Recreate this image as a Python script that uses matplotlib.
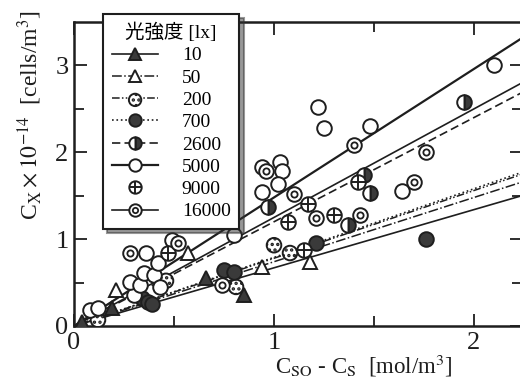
import numpy as np
import matplotlib
matplotlib.use('Agg')
import matplotlib.pyplot as plt
from matplotlib.lines import Line2D
from matplotlib.legend_handler import HandlerTuple

plt.rcParams['font.family'] = ['Liberation Serif', 'Noto Sans CJK JP', 'DejaVu Sans']
plt.rcParams['mathtext.fontset'] = 'stix'
plt.rcParams['hatch.linewidth'] = 1.6

# values: x = C_SO - C_S [mol/m3], y = C_X x 1e-14 [cells/m3]
lux = ['10', '50', '200', '700', '2600', '5000', '9000', '16000']

x_10 = [0.04, 0.19, 0.66, 0.85]
y_10 = [0.05, 0.21, 0.55, 0.36]
x_50 = [0.21, 0.57, 0.94, 1.18]
y_50 = [0.41, 0.84, 0.68, 0.74]
x_200 = [0.12, 0.46, 0.81, 1.00, 1.08]
y_200 = [0.07, 0.52, 0.45, 0.93, 0.84]
x_700 = [0.34, 0.37, 0.39, 0.75, 0.80, 1.21, 1.76]
y_700 = [0.32, 0.28, 0.25, 0.64, 0.62, 0.95, 1.00]
x_2600 = [0.97, 1.37, 1.45, 1.48, 1.95]
y_2600 = [1.37, 1.16, 1.74, 1.53, 2.58]
x_5000 = [0.08, 0.12, 0.30, 0.28, 0.33, 0.35, 0.40, 0.43, 0.42, 0.36, 0.49,
          0.80, 0.94, 1.03, 1.04, 1.02, 0.94, 1.22, 1.25, 1.48, 1.64, 2.10]
y_5000 = [0.18, 0.21, 0.36, 0.51, 0.47, 0.61, 0.59, 0.45, 0.72, 0.84, 0.99,
          1.05, 1.83, 1.89, 1.79, 1.64, 1.54, 2.52, 2.28, 2.30, 1.55, 3.00]
x_9000 = [0.47, 1.07, 1.15, 1.17, 1.30, 1.42]
y_9000 = [0.84, 1.20, 0.87, 1.41, 1.28, 1.66]
x_16000 = [0.28, 0.52, 0.74, 0.96, 1.10, 1.21, 1.43, 1.40, 1.70, 1.76]
y_16000 = [0.84, 0.95, 0.47, 1.79, 1.52, 1.24, 1.28, 2.08, 1.66, 2.00]

# slopes of the fitted lines through the origin (None = no line drawn)
slopes = [0.67, 0.74, 0.78, 0.79, 1.20, 1.48, None, 1.25]

xs = [x_10, x_50, x_200, x_700, x_2600, x_5000, x_9000, x_16000]
ys = [y_10, y_50, y_200, y_700, y_2600, y_5000, y_9000, y_16000]

dark = '#3a3a3a'
ink = '#1e1e1e'
line_styles = ['-', '-.', (0, (5, 1.5, 1, 1.5, 1, 1.5)), ':', (0, (5, 2.5)), '-', 'none', '-']
line_widths = [1.2, 1.1, 1.1, 1.2, 1.2, 1.6, 1.0, 1.2]
ms = 10.5

fig = plt.figure(figsize=(5.2, 3.84), dpi=100)
ax = fig.add_axes([74 / 520, 58 / 384, 448 / 520, 304 / 384])
ax.set_xlim(0, 2.24)
ax.set_ylim(0, 3.5)

handles = []
xline = np.array([0, 2.4])
for i, name in enumerate(lux):
    if slopes[i] is not None:
        ln, = ax.plot(xline, slopes[i] * xline, color=ink, ls=line_styles[i],
                      lw=line_widths[i], zorder=2)
    else:
        ln = Line2D([], [], ls='none')
    x, y = xs[i], ys[i]
    base = dict(ls='none', ms=ms, mec=ink, mew=1.4, zorder=3)
    if name == '10':
        parts = [ax.plot(x, y, marker='^', mfc=dark, **base)[0]]
    elif name == '50':
        parts = [ax.plot(x, y, marker='^', mfc='white', **base)[0]]
    elif name == '200':
        parts = [ax.scatter(x, y, s=ms ** 2, marker='o', facecolor='white',
                            edgecolor=ink, linewidth=1.4, hatch='...', zorder=3)]
    elif name == '700':
        parts = [ax.plot(x, y, marker='o', mfc=dark, **base)[0]]
    elif name == '2600':
        parts = [ax.plot(x, y, marker='o', fillstyle='right', mfc=dark,
                         markerfacecoloralt='white', **base)[0]]
    elif name == '5000':
        parts = [ax.plot(x, y, marker='o', mfc='white', **base)[0]]
    elif name == '9000':
        m = ax.plot(x, y, marker='o', mfc='white', **base)[0]
        p = ax.plot(x, y, marker='+', ls='none', ms=ms - 1, mec=ink, mew=1.4, zorder=4)[0]
        parts = [m, p]
    else:
        m = ax.plot(x, y, marker='o', mfc='white', **base)[0]
        p = ax.plot(x, y, marker='o', ls='none', ms=4.5, mfc='white', mec=ink,
                    mew=1.3, zorder=4)[0]
        parts = [m, p]
    handles.append(tuple([ln] + parts))

ax.set_xticks([0, 1, 2])
ax.set_xticks([0.5, 1.5], minor=True)
ax.set_yticks([0, 1, 2, 3])
ax.set_yticks([0.5, 1.5, 2.5], minor=True)
ax.tick_params(which='both', direction='in', top=True, right=True,
               width=1.3, color=ink)
ax.tick_params(which='major', length=9, labelsize=19, pad=4, labelcolor=ink)
ax.tick_params(which='minor', length=7)
for sp in ax.spines.values():
    sp.set_linewidth(1.8)
    sp.set_color(ink)

fig.text(30 / 520, 1 - 115 / 384,
         r'C$_{\mathrm{X}}\times 10^{-14}$  [cells/m$^3$]',
         rotation=90, ha='center', va='center', fontsize=17, color=ink)
fig.text(364 / 520, 1 - 366 / 384,
         r'C$_{\mathrm{SO}}$ - C$_{\mathrm{S}}$  [mol/m$^3$]',
         ha='center', va='center', fontsize=16.5, color=ink)

leg = ax.legend(handles, lux, title='光強度 [lx]', loc='upper left',
                bbox_to_anchor=(103 / 520, 1 - 14 / 384), bbox_transform=fig.transFigure,
                borderaxespad=0, fancybox=False, framealpha=1,
                shadow={'ox': 3, 'oy': -3, 'color': '0.2'},
                fontsize=14, title_fontsize=14, handlelength=2.4, handletextpad=1.2,
                labelspacing=0.24, borderpad=0.45, markerscale=0.85,
                handler_map={tuple: HandlerTuple(ndivide=1, pad=0)})
leg.get_frame().set_edgecolor(ink)
leg.get_frame().set_linewidth(1.5)
leg.set_zorder(10)

fig.savefig('out.png', dpi=100)
